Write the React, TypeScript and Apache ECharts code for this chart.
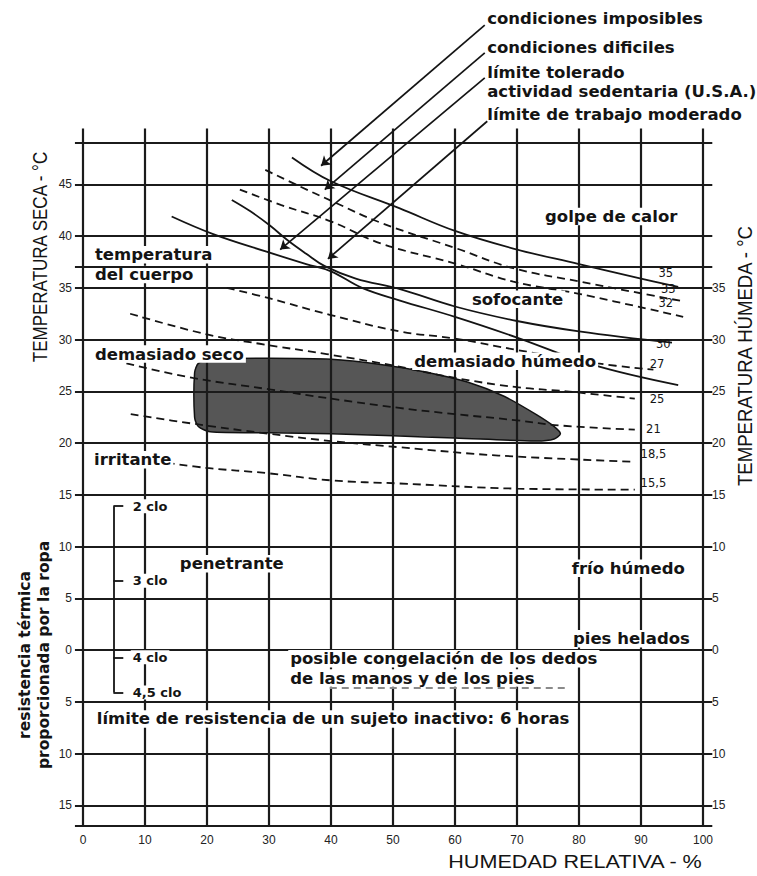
import React, { useEffect, useRef } from 'react';
import * as echarts from 'echarts';

// ---------- axes ----------
const xTicks = [0, 10, 20, 30, 40, 50, 60, 70, 80, 90, 100];
const leftTicks = [45, 40, 35, 30, 25, 20, 15, 10, 5, 0, -5, -10, -15];
const rightTicks = [35, 30, 25, 20, 15, 10, 5, 0, -5, -10, -15];
const hGridValues = [-17, -15, -10, -5, 0, 5, 10, 15, 20, 25, 30, 35, 40, 45, 49];
const bodyTemperature = 37;
const vGridValues = [0, 10, 20, 30, 40, 50, 60, 70, 80, 90, 100];

// ---------- curves (humedad %, temperatura °C) ----------
const curve35: number[][] = [[33.7, 47.6], [40, 45.3], [51, 42.7], [60, 40.5], [69.4, 38.8], [80, 37.3], [90, 35.9], [96, 35.1]];
const curve33: number[][] = [[29.4, 46.4], [35, 44.8], [40.1, 43.4], [48, 41.3], [60.3, 38.8], [69.4, 36.9], [80.2, 35.6], [96.8, 33.7]];
const curve32: number[][] = [[25.3, 44.5], [32, 43.0], [40.1, 41.4], [48, 39.3], [60.3, 37.3], [69.4, 35.6], [80.2, 34.4], [96.8, 32.2]];
const curve30: number[][] = [[24, 43.5], [27, 42.4], [30.2, 41.0], [33, 39.6], [36, 38.3], [39, 37.1], [44, 35.9], [51, 34.9], [60, 33.2], [70, 31.8], [80, 30.8], [95, 29.7]];
const curveSolidLow: number[][] = [[14.3, 41.9], [21, 40.2], [29.6, 38.5], [36, 37.3], [40, 36.6], [45, 35.0], [51, 33.8], [60, 32.2], [70, 30.2], [82, 27.6], [96, 25.6]];
const curve27: number[][] = [[23.2, 35.0], [30, 34.0], [39.8, 32.4], [51, 30.8], [60, 30.1], [70, 29.0], [83, 27.7], [92, 27.1]];
const curve25: number[][] = [[7.6, 32.5], [20, 30.5], [28.5, 29.6], [39.3, 28.6], [50, 27.5], [60, 26.3], [70, 25.4], [78, 25.0], [89, 24.3]];
const curve21: number[][] = [[7, 27.7], [17.7, 26.3], [30, 25.2], [40, 24.3], [51, 23.4], [60, 22.8], [70, 22.2], [77, 21.7], [89, 21.3]];
const curve185: number[][] = [[7.7, 22.8], [17.5, 21.9], [30, 20.9], [40, 20.2], [51, 19.6], [67, 18.8], [89, 18.2]];
const curve155: number[][] = [[13.5, 18.1], [20, 17.6], [29.6, 17.1], [40, 16.4], [51, 16.1], [70, 15.6], [89, 15.5]];

const solidCurves = [curve35, curve30, curveSolidLow];
const dashedCurves = [curve33, curve32, curve27, curve25, curve21, curve185, curve155];

// comfort zone outline
const comfortZone: number[][] = [
  [18.0, 26.8], [18.6, 27.7], [20.5, 28.1], [30, 28.2], [40, 28.1], [48, 27.6], [55, 26.9], [62, 25.9],
  [68, 24.5], [73, 22.8], [76, 21.6], [77, 20.9], [76, 20.4], [73, 20.2], [60, 20.5], [50, 20.7],
  [40, 20.9], [30, 21.0], [20.5, 21.1], [18.6, 21.6], [18.0, 22.5]
];

// wet-bulb labels
const wetLabels = ['35', '33', '32', '30', '27', '25', '21', '18,5', '15,5'];
const wetLabelAnchors: number[][] = [[94.0, 36.4], [94.4, 34.9], [94.0, 33.5], [93.6, 29.6], [92.6, 27.6], [92.6, 24.3], [92.0, 21.4], [92.0, 18.9], [92.0, 16.1]];

// annotations
const topTexts = ['condiciones imposibles', 'condiciones dificiles', 'límite tolerado', 'actividad sedentaria (U.S.A.)', 'límite de trabajo moderado'];
const topAnchors: number[][] = [[65.2, 61.0], [65.2, 58.2], [65.2, 55.8], [65.2, 54.0], [65.2, 51.8]];
const arrowFrom: number[][] = [[64.8, 60.4], [64.8, 57.7], [64.8, 55.3], [65.2, 51.1]];
const arrowTo: number[][] = [[38.4, 46.8], [39.0, 44.5], [31.8, 38.7], [39.5, 37.8]];

const zoneTexts = ['golpe de calor', 'temperatura', 'del cuerpo', 'sofocante', 'demasiado seco', 'demasiado húmedo',
  'irritante', 'penetrante', 'frío húmedo', 'pies helados', 'posible congelación de los dedos',
  'de las manos y de los pies', 'límite de resistencia de un sujeto inactivo: 6 horas'];
const zoneAnchors: number[][] = [[74.2, 41.9], [1.6, 38.2], [1.6, 36.3], [62.4, 33.9], [1.6, 28.6], [53.1, 27.9],
  [1.45, 18.4], [15.3, 8.35], [78.5, 7.9], [78.7, 1.1], [33.1, -0.85], [33.1, -2.7], [1.9, -6.65]];

const cloTexts = ['2 clo', '3 clo', '4 clo', '4,5 clo'];
const cloValues = [13.9, 6.7, -0.7, -4.1];
const cloBracketX = 4.9;
const cloTextX = 7.7;

const freezeLine: number[][] = [[39.8, -3.6], [77.7, -3.6]];

const INK = '#141414';

function buildOption() {
  const gridLines: any[] = [];
  hGridValues.forEach(v => gridLines.push({ coords: [[-1.3, v], [101.5, v]] }));
  vGridValues.forEach(v => gridLines.push({ coords: [[v, -17], [v, 50.4]] }));

  const cloLines: any[] = [{ coords: [[cloBracketX, cloValues[0]], [cloBracketX, cloValues[3]]] }];
  cloValues.forEach(v => cloLines.push({ coords: [[cloBracketX, v], [cloBracketX + 1.6, v]] }));

  const arrows = arrowFrom.map((f, i) => ({ coords: [f, arrowTo[i]] }));

  const textSeries = (texts: string[], anchors: number[][], size: number, weight: string, bg: boolean, align: string, z: number) => ({
    type: 'custom',
    coordinateSystem: 'cartesian2d',
    clip: false,
    silent: true,
    z,
    data: anchors.map(a => [a[0], a[1]]),
    renderItem: (params: any, api: any) => {
      const p = api.coord([api.value(0), api.value(1)]);
      return {
        type: 'text',
        x: p[0],
        y: p[1],
        style: {
          text: texts[params.dataIndex],
          fill: INK,
          fontSize: size,
          fontWeight: weight,
          fontFamily: 'DejaVu Sans',
          align,
          verticalAlign: 'middle',
          lineHeight: size + 1,
          backgroundColor: bg ? '#ffffff' : 'transparent',
          padding: bg ? [0, 2] : 0,
        },
      };
    },
  });

  const series: any[] = [];

  series.push({
    type: 'custom',
    coordinateSystem: 'cartesian2d',
    silent: true,
    z: 1,
    data: [[comfortZone[0][0], comfortZone[0][1]]],
    renderItem: (_p: any, api: any) => ({
      type: 'polygon',
      shape: { points: comfortZone.map(pt => api.coord(pt)), smooth: 0.25 },
      style: { fill: '#565656', stroke: '#111', lineWidth: 1.5 },
    }),
  });

  series.push({
    type: 'lines', coordinateSystem: 'cartesian2d', clip: false, silent: true, z: 2,
    data: gridLines, lineStyle: { color: '#1b1b1b', width: 2.2, opacity: 1 },
  });

  solidCurves.forEach(c => series.push({
    type: 'line', data: c, smooth: 0.4, symbol: 'none', silent: true, z: 4,
    lineStyle: { color: INK, width: 1.8, type: 'solid' },
  }));
  dashedCurves.forEach(c => series.push({
    type: 'line', data: c, smooth: 0.4, symbol: 'none', silent: true, z: 4,
    lineStyle: { color: INK, width: 1.8, type: [8, 5] },
  }));

  series.push({
    type: 'lines', coordinateSystem: 'cartesian2d', clip: false, silent: true, z: 5,
    data: arrows, symbol: ['none', 'arrow'], symbolSize: 9,
    lineStyle: { color: INK, width: 1.7, opacity: 1 },
  });

  series.push({
    type: 'lines', coordinateSystem: 'cartesian2d', clip: false, silent: true, z: 5,
    data: cloLines, lineStyle: { color: INK, width: 1.8, opacity: 1 },
  });

  series.push({
    type: 'lines', coordinateSystem: 'cartesian2d', clip: false, silent: true, z: 5,
    data: [{ coords: freezeLine }], lineStyle: { color: '#8a8a8a', width: 2, type: [7, 5], opacity: 1 },
  });

  series.push(textSeries(topTexts, topAnchors, 16.5, 'bold', false, 'left', 10));
  series.push(textSeries(zoneTexts, zoneAnchors, 16.5, 'bold', true, 'left', 10));
  series.push(textSeries(cloTexts, cloValues.map(v => [cloTextX, v]), 13, 'bold', true, 'left', 10));
  series.push(textSeries(wetLabels, wetLabelAnchors, 11.5, 'normal', false, 'center', 10));

  series.push({
    type: 'lines', coordinateSystem: 'cartesian2d', clip: false, silent: true, z: 12,
    data: [{ coords: [[-1.3, bodyTemperature], [101.5, bodyTemperature]] }],
    lineStyle: { color: '#1b1b1b', width: 2.2, opacity: 1 },
  });

  const tickLabel = { color: '#222', fontSize: 12, fontFamily: 'Liberation Sans' };

  return {
    animation: false,
    backgroundColor: '#ffffff',
    grid: { left: 83, right: 54, top: 143, bottom: 50, containLabel: false },
    xAxis: {
      type: 'value', min: 0, max: 100, interval: 10,
      axisLine: { show: false }, axisTick: { show: false }, splitLine: { show: false },
      axisLabel: { ...tickLabel, margin: 8, customValues: xTicks },
    },
    yAxis: [
      {
        type: 'value', min: -17, max: 49, position: 'left',
        axisLine: { show: false }, axisTick: { show: false }, splitLine: { show: false },
        axisLabel: { ...tickLabel, margin: 11, customValues: leftTicks, formatter: (v: number) => String(Math.abs(v)) },
      },
      {
        type: 'value', min: -17, max: 49, position: 'right',
        axisLine: { show: false }, axisTick: { show: false }, splitLine: { show: false },
        axisLabel: { ...tickLabel, margin: 9, customValues: rightTicks, formatter: (v: number) => String(Math.abs(v)) },
      },
    ],
    graphic: [
      {
        type: 'text', x: 40, y: 257, rotation: Math.PI / 2, scaleX: 0.85, silent: true,
        style: { text: 'TEMPERATURA SECA - °C', fill: INK, fontSize: 20, fontFamily: 'Liberation Sans', align: 'center', verticalAlign: 'middle' },
      },
      {
        type: 'text', x: 745, y: 356, rotation: Math.PI / 2, scaleX: 0.93, silent: true,
        style: { text: 'TEMPERATURA HÚMEDA - °C', fill: INK, fontSize: 20, fontFamily: 'Liberation Sans', align: 'center', verticalAlign: 'middle' },
      },
      {
        type: 'text', x: 34, y: 655, rotation: Math.PI / 2, silent: true,
        style: { text: 'resistencia térmica\nproporcionada por la ropa', fill: INK, fontSize: 15.5, fontWeight: 'bold', fontFamily: 'DejaVu Sans', align: 'center', verticalAlign: 'middle', lineHeight: 19 },
      },
      {
        type: 'text', x: 575, y: 862, scaleX: 1.2, silent: true,
        style: { text: 'HUMEDAD RELATIVA - %', fill: INK, fontSize: 18, fontFamily: 'Liberation Sans', align: 'center', verticalAlign: 'middle' },
      },
    ],
    series,
  };
}

export default function App() {
  const ref = useRef<HTMLDivElement>(null);
  useEffect(() => {
    if (!ref.current) return;
    const chart = echarts.init(ref.current, null, { renderer: 'svg' });
    chart.setOption(buildOption() as any);
    return () => chart.dispose();
  }, []);
  return <div ref={ref} style={{ position: 'absolute', left: 0, top: 0, width: 757, height: 876, background: '#fff' }} />;
}
